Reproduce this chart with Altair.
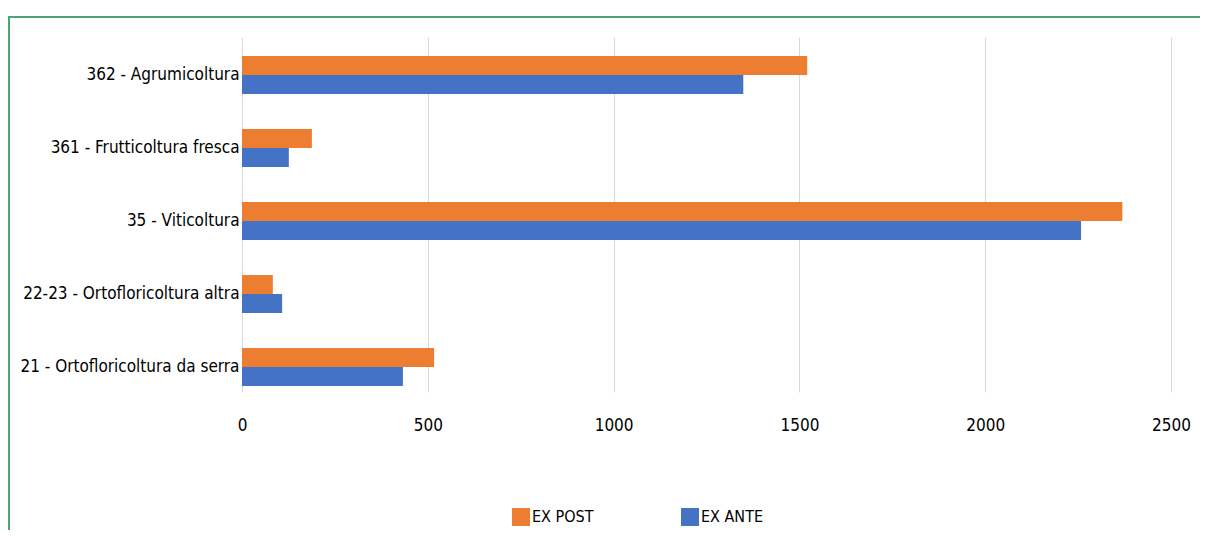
import altair as alt
import pandas as pd

categories = [
    "362 - Agrumicoltura",
    "361 - Frutticoltura fresca",
    "35 - Viticoltura",
    "22-23  - Ortofloricoltura altra",
    "21 - Ortofloricoltura da serra",
]
ex_post = [1521, 188, 2369, 83, 517]
ex_ante = [1349, 126, 2258, 108, 433]
series = ["EX POST", "EX ANTE"]
colors = ["#ED7D31", "#4472C4"]
x_ticks = [0, 500, 1000, 1500, 2000, 2500]

rows = []
for c, p, a in zip(categories, ex_post, ex_ante):
    rows.append({"cat": c, "serie": "EX POST", "val": p})
    rows.append({"cat": c, "serie": "EX ANTE", "val": a})
df = pd.DataFrame(rows)

FONT = "DejaVu Sans Condensed, Liberation Sans Narrow, sans-serif"
GREEN = "#4aa570"

bars = alt.Chart(df).mark_bar().encode(
    x=alt.X(
        "val:Q",
        scale=alt.Scale(domain=[0, 2500], nice=False),
        axis=alt.Axis(
            values=x_ticks, title=None, grid=True, gridColor="#D9D9D9",
            domain=False, ticks=False, labelPadding=25, labelFontSize=17,
            labelFont=FONT, labelColor="#000000", format="d", labelFlush=False,
        ),
    ),
    y=alt.Y(
        "cat:N", sort=categories,
        scale=alt.Scale(paddingInner=0.48, paddingOuter=0.1715, align=0.76),
        axis=alt.Axis(
            title=None, domain=False, ticks=False, labelPadding=3,
            labelFontSize=17, labelFont=FONT, labelColor="#000000", labelLimit=400,
        ),
    ),
    yOffset=alt.YOffset("serie:N", sort=series),
    color=alt.Color(
        "serie:N", sort=series,
        scale=alt.Scale(domain=series, range=colors),
        legend=alt.Legend(
            title=None, orient="none", legendX=270, legendY=471,
            direction="horizontal", symbolType="square", symbolSize=324,
            symbolStrokeWidth=0, labelFontSize=16, labelFont=FONT,
            labelColor="#000000", labelOffset=2, columnPadding=86, padding=0,
            gridAlign="all",
        ),
    ),
)

frame_top = alt.Chart(pd.DataFrame({"a": [0]})).mark_rule(
    color=GREEN, strokeWidth=2
).encode(x=alt.value(-233), x2=alt.value(958), y=alt.value(-20))

frame_left = alt.Chart(pd.DataFrame({"a": [0]})).mark_rule(
    color=GREEN, strokeWidth=2
).encode(x=alt.value(-233), y=alt.value(-21), y2=alt.value(500))

chart = alt.layer(frame_top, frame_left, bars).properties(
    width=929, height=355,
    autosize=alt.AutoSizeParams(type="none"),
    padding={"left": 234, "top": 29, "right": 29, "bottom": 138},
).configure_view(stroke=None)

chart.save("out.html", embed_options={"renderer": "svg", "actions": False})
